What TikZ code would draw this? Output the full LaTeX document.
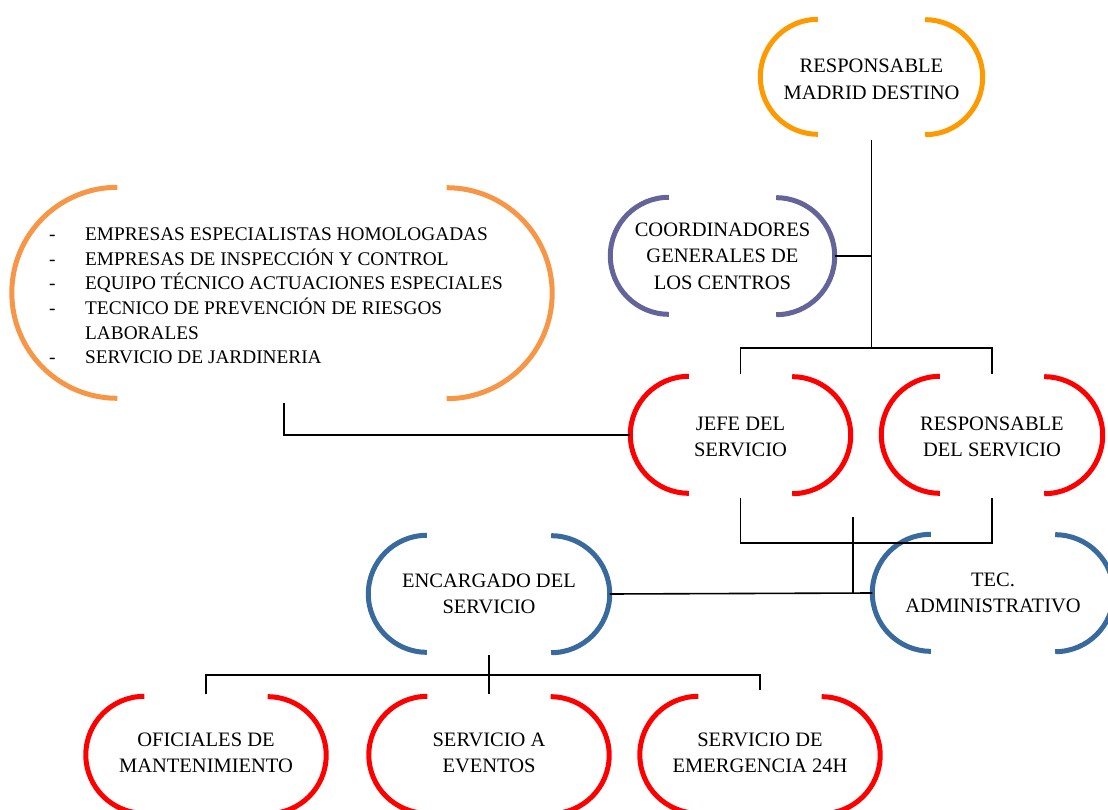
\documentclass[tikz,border=0pt]{standalone}
\usepackage{fontspec}
\setmainfont{Liberation Serif}
\definecolor{orgA}{RGB}{255,153,0}
\definecolor{orgB}{RGB}{247,150,70}
\definecolor{purp}{RGB}{100,100,155}
\definecolor{redc}{RGB}{255,0,0}
\definecolor{bluec}{RGB}{56,106,158}
\newcommand\brackets[3]{%
 \draw[brk,#2] ([xshift=#3pt]#1.north west) arc[start angle=90,end angle=270,radius=#3pt];
 \draw[brk,#2] ([xshift=-#3pt]#1.south east) arc[start angle=-90,end angle=90,radius=#3pt];}
\tikzset{
 brk/.style={line width=5pt},
 capsule/.style={inner sep=0pt, minimum height=117pt, align=center,
   font=\fontsize{20.5}{26.5}\selectfont},
 conn/.style={line width=1.6pt, black}
}
\begin{document}
\begin{tikzpicture}[x=1pt,y=1pt]
\useasboundingbox (0,0) rectangle (1108,-810);
% nodes
\node[capsule, minimum width=222pt, minimum height=115pt] (madrid) at (871.5,-77) {};
\node[inner sep=0pt, align=center, font=\fontsize{20.5}{26.5}\selectfont] (madridtxt) at (871.5,-79.5) {RESPONSABLE\\MADRID DESTINO};
\node[capsule, minimum width=224pt] (coord) at (722.5,-256) {COORDINADORES\\GENERALES DE\\LOS CENTROS};
\node[inner sep=0pt, minimum width=540pt, minimum height=211pt] (list) at (282,-293) {};
\node[inner sep=0pt, anchor=west, align=left, font=\fontsize{19.3}{24.6}\selectfont] (listtxt) at (49,-296) {%
  \makebox[36pt][l]{-}EMPRESAS ESPECIALISTAS HOMOLOGADAS\\
  \makebox[36pt][l]{-}EMPRESAS DE INSPECCIÓN Y CONTROL\\
  \makebox[36pt][l]{-}EQUIPO TÉCNICO ACTUACIONES ESPECIALES\\
  \makebox[36pt][l]{-}TECNICO DE PREVENCIÓN DE RIESGOS\\
  \hspace*{36pt}LABORALES\\
  \makebox[36pt][l]{-}SERVICIO DE JARDINERIA};
\node[capsule, minimum width=220pt] (jefe) at (740.5,-435) {};
\node[inner sep=0pt, align=center, font=\fontsize{20.5}{26.5}\selectfont] (jefetxt) at (740.5,-437) {JEFE DEL\\SERVICIO};
\node[capsule, minimum width=221pt] (resp) at (992,-435) {};
\node[inner sep=0pt, align=center, font=\fontsize{20.5}{26.5}\selectfont] (resptxt) at (992,-437) {RESPONSABLE\\DEL SERVICIO};
\node[capsule, minimum width=241pt] (enc) at (489,-594) {ENCARGADO DEL\\SERVICIO};
\node[capsule, minimum width=241pt] (tec) at (993,-593) {TEC.\\ADMINISTRATIVO};
\node[capsule, minimum width=240pt] (ofi) at (206,-755) {};
\node[inner sep=0pt, align=center, font=\fontsize{20.5}{26.5}\selectfont] (ofitxt) at (206,-753) {OFICIALES DE\\MANTENIMIENTO};
\node[capsule, minimum width=240pt] (evt) at (489,-755) {};
\node[inner sep=0pt, align=center, font=\fontsize{20.5}{26.5}\selectfont] (evttxt) at (489,-753) {SERVICIO A\\EVENTOS};
\node[capsule, minimum width=240pt] (emg) at (760,-755) {};
\node[inner sep=0pt, align=center, font=\fontsize{20.5}{26.5}\selectfont] (emgtxt) at (760,-753) {SERVICIO DE\\EMERGENCIA 24H};
% brackets
\brackets{madrid}{orgA}{57.5}
\brackets{coord}{purp}{58.5}
\brackets{list}{orgB}{105.5}
\brackets{jefe}{redc}{58.5}
\brackets{resp}{redc}{58.5}
\brackets{enc}{bluec}{58.5}
\brackets{tec}{bluec}{58.5}
\brackets{ofi}{redc}{58.5}
\brackets{evt}{redc}{58.5}
\brackets{emg}{redc}{58.5}
% junctions
\coordinate (j1) at (872,-348);
\coordinate (j2) at (853,-543);
\coordinate (j3) at (853,-517);
\coordinate (j4) at (489,-675);
% connectors
\draw[conn] ([yshift=-5pt]madrid.south) -- (madrid.south |- j1);
\draw[conn] (coord.east) -- (coord.east -| j1);
\draw[conn] ([yshift=2pt]jefe.north) -- (jefe.north |- j1) -- (resp.north |- j1) -- ([yshift=2pt]resp.north);
\draw[conn] ([xshift=2pt,yshift=-4pt]list.south) -- ([xshift=2pt]list.south |- jefe.west) -- (jefe.west);
\draw[conn] ([yshift=-4pt]jefe.south) -- (jefe.south |- j2) -- (resp.south |- j2) -- ([yshift=-4pt]resp.south);
\draw[conn] (j3) -- (j3 |- enc.east);
\draw[conn] (enc.east) -- (tec.west);
\draw[conn] ([yshift=-2pt]enc.south) -- ([yshift=2pt]evt.north);
\draw[conn] ([yshift=2pt]ofi.north) -- (ofi.north |- j4) -- (emg.north |- j4) -- ([yshift=6pt]emg.north);
\end{tikzpicture}
\end{document}
